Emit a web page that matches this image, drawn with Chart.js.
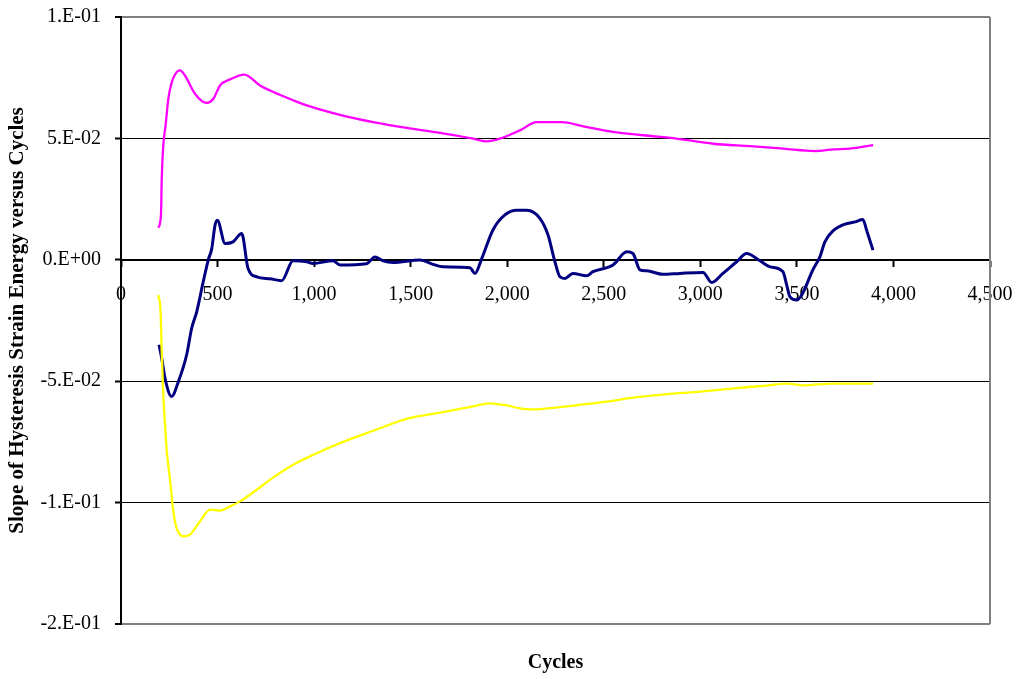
<!DOCTYPE html>
<html>
<head>
<meta charset="utf-8">
<title>Slope of Hysteresis Strain Energy versus Cycles</title>
<script src="https://cdn.jsdelivr.net/npm/chart.js@4"></script>
<style>
  html, body { margin: 0; padding: 0; background: #ffffff; }
  #wrap { width: 1021px; height: 679px; }
</style>
</head>
<body>
<div id="wrap"><canvas id="chart" width="1021" height="679"></canvas></div>
<script>
// Upper curve (magenta)
const magentaCycles = [193, 207, 211, 219, 231, 245, 263, 288, 306, 331, 383, 444, 478, 513, 564, 638, 720, 789, 892, 962, 1134, 1306, 1479, 1652, 1824, 1894, 1962, 2066, 2152, 2282, 2394, 2532, 2704, 2877, 3067, 3257, 3429, 3594, 3688, 3775, 3895];
const magentaValues = [0.0132, 0.0184, 0.0334, 0.0472, 0.0554, 0.0663, 0.0732, 0.0773, 0.0780, 0.0759, 0.0684, 0.0646, 0.0663, 0.0718, 0.0743, 0.0763, 0.0718, 0.0691, 0.0657, 0.0636, 0.0597, 0.0567, 0.0543, 0.0523, 0.0499, 0.0488, 0.0499, 0.0533, 0.0567, 0.0567, 0.0550, 0.0529, 0.0513, 0.0499, 0.0478, 0.0468, 0.0458, 0.0448, 0.0455, 0.0458, 0.0472];

// Middle curve (navy)
const navyCycles = [197, 211, 228, 262, 297, 340, 366, 392, 426, 452, 470, 487, 499, 539, 580, 625, 658, 703, 772, 832, 891, 962, 994, 1098, 1134, 1272, 1315, 1357, 1408, 1548, 1616, 1667, 1807, 1833, 1868, 1926, 1988, 2049, 2101, 2170, 2211, 2247, 2273, 2299, 2340, 2411, 2444, 2548, 2619, 2651, 2687, 2722, 2806, 2894, 3014, 3059, 3117, 3188, 3240, 3309, 3361, 3428, 3447, 3464, 3499, 3525, 3583, 3619, 3645, 3687, 3749, 3801, 3842, 3861, 3894];
const navyValues = [-0.0350, -0.0406, -0.0488, -0.0563, -0.0502, -0.0391, -0.0282, -0.0214, -0.0090, 0.0000, 0.0046, 0.0143, 0.0163, 0.0067, 0.0074, 0.0108, -0.0036, -0.0070, -0.0078, -0.0086, -0.0004, -0.0008, -0.0015, -0.0004, -0.0021, -0.0016, 0.0012, -0.0004, -0.0011, -0.0001, -0.0019, -0.0029, -0.0033, -0.0056, 0.0005, 0.0123, 0.0185, 0.0204, 0.0204, 0.0170, 0.0103, -0.0008, -0.0070, -0.0077, -0.0056, -0.0066, -0.0049, -0.0021, 0.0033, 0.0026, -0.0041, -0.0045, -0.0060, -0.0056, -0.0052, -0.0093, -0.0056, -0.0008, 0.0026, -0.0004, -0.0029, -0.0049, -0.0103, -0.0152, -0.0166, -0.0145, -0.0041, 0.0012, 0.0074, 0.0119, 0.0147, 0.0156, 0.0166, 0.0122, 0.0040];

// Lower curve (yellow)
const yellowCycles = [193, 205, 211, 219, 228, 237, 254, 271, 288, 323, 357, 409, 461, 513, 564, 616, 703, 789, 892, 996, 1134, 1306, 1479, 1652, 1824, 1911, 1997, 2083, 2152, 2273, 2360, 2515, 2670, 2860, 2998, 3110, 3222, 3343, 3447, 3533, 3688, 3895];
const yellowValues = [-0.0145, -0.0214, -0.0385, -0.0556, -0.0680, -0.0789, -0.0906, -0.1036, -0.1105, -0.1139, -0.1132, -0.1077, -0.1029, -0.1033, -0.1016, -0.0995, -0.0947, -0.0896, -0.0844, -0.0803, -0.0755, -0.0704, -0.0655, -0.0629, -0.0604, -0.0591, -0.0600, -0.0614, -0.0616, -0.0607, -0.0599, -0.0584, -0.0566, -0.0551, -0.0543, -0.0535, -0.0526, -0.0518, -0.0510, -0.0517, -0.0510, -0.0510];

// Axis ranges and tick spacing
const xRange = [0, 4500];
const xStep = 500;
const yRange = [-0.15, 0.1];
const yStep = 0.05;

const xTitle = 'Cycles';
const yTitle = 'Slope of Hysteresis Strain Energy versus Cycles';

const SERIF = "'Liberation Serif', 'Times New Roman', Times, serif";

function toPoints(xs, ys) {
  return xs.map((x, i) => ({ x: x, y: ys[i] }));
}

// "0.E+00" style label: one significant digit, rounded half away from zero
function sciLabel(v) {
  if (Math.abs(v) < 1e-12) return '0.E+00';
  const sign = v < 0 ? '-' : '';
  const a = Math.abs(v);
  let e = Math.floor(Math.log10(a) + 1e-9);
  let m = Math.round(a / Math.pow(10, e) + 1e-9);
  if (m >= 10) { m = 1; e += 1; }
  return sign + m + '.E' + (e < 0 ? '-' : '+') + String(Math.abs(e)).padStart(2, '0');
}

function isEdge(v) {
  return Math.abs(v - yRange[0]) < 1e-9 || Math.abs(v - yRange[1]) < 1e-9;
}

// Labels may overhang the plot edges; keep the plot area fixed by the layout padding
function noOverhang(scale) {
  scale.paddingTop = 0;
  scale.paddingBottom = 0;
  scale.paddingLeft = 0;
  scale.paddingRight = 0;
}

// Grey right-hand edge of the plot area
const plotFrame = {
  id: 'plotFrame',
  beforeDatasetsDraw(chart) {
    const { ctx, chartArea } = chart;
    ctx.save();
    ctx.strokeStyle = '#808080';
    ctx.lineWidth = 2;
    ctx.beginPath();
    ctx.moveTo(chartArea.right, chartArea.top);
    ctx.lineTo(chartArea.right, chartArea.bottom);
    ctx.stroke();
    ctx.restore();
  }
};

const common = {
  fill: false,
  pointRadius: 0,
  pointHoverRadius: 0,
  cubicInterpolationMode: 'monotone',
  borderCapStyle: 'butt',
  borderJoinStyle: 'round'
};

new Chart(document.getElementById('chart'), {
  type: 'line',
  data: {
    datasets: [
      Object.assign({ label: 'Lower', data: toPoints(yellowCycles, yellowValues), borderColor: '#FFFF00', borderWidth: 2.3 }, common),
      Object.assign({ label: 'Mean', data: toPoints(navyCycles, navyValues), borderColor: '#000080', borderWidth: 3 }, common),
      Object.assign({ label: 'Upper', data: toPoints(magentaCycles, magentaValues), borderColor: '#FF00FF', borderWidth: 2.3 }, common)
    ]
  },
  options: {
    responsive: false,
    animation: false,
    devicePixelRatio: 1,
    layout: { padding: { top: 17, right: 31, left: 0, bottom: 0 } },
    plugins: {
      legend: { display: false },
      tooltip: { enabled: false },
      title: { display: false }
    },
    scales: {
      x: {
        type: 'linear',
        position: { y: 0 },
        min: xRange[0],
        max: xRange[1],
        ticks: {
          stepSize: xStep,
          color: '#000',
          font: { family: SERIF, size: 20 },
          padding: 17,
          maxRotation: 0,
          autoSkip: false,
          callback: (v) => v.toLocaleString('en-US')
        },
        grid: { drawOnChartArea: false, drawTicks: true, tickLength: 6, tickColor: '#000', tickWidth: 2 },
        border: { display: true, color: '#000', width: 2 },
        afterFit: noOverhang
      },
      x2: {
        type: 'linear',
        position: 'bottom',
        min: xRange[0],
        max: xRange[1],
        ticks: { display: false },
        grid: { display: false, drawTicks: false },
        border: { display: false },
        title: {
          display: true,
          text: xTitle,
          color: '#000',
          font: { family: SERIF, size: 20, weight: 'bold' },
          padding: { top: 0, bottom: 4 }
        },
        afterFit(scale) { noOverhang(scale); scale.height = 55; }
      },
      y: {
        type: 'linear',
        position: 'left',
        min: yRange[0],
        max: yRange[1],
        ticks: {
          stepSize: yStep,
          color: '#000',
          font: { family: SERIF, size: 20 },
          padding: 14,
          callback: (v) => sciLabel(v)
        },
        grid: {
          drawTicks: true,
          tickLength: 6,
          tickColor: '#000',
          tickWidth: 2,
          color: (c) => (c.tick && isEdge(c.tick.value)) ? '#808080' : '#000000',
          lineWidth: (c) => (c.tick && isEdge(c.tick.value)) ? 2 : 1
        },
        border: { display: true, color: '#000', width: 2 },
        title: {
          display: true,
          text: yTitle,
          color: '#000',
          font: { family: SERIF, size: 21, weight: 'bold' },
          padding: { top: 5, bottom: 0 }
        },
        afterFit(scale) { noOverhang(scale); scale.width = 121; }
      }
    }
  },
  plugins: [plotFrame]
});
</script>
</body>
</html>
